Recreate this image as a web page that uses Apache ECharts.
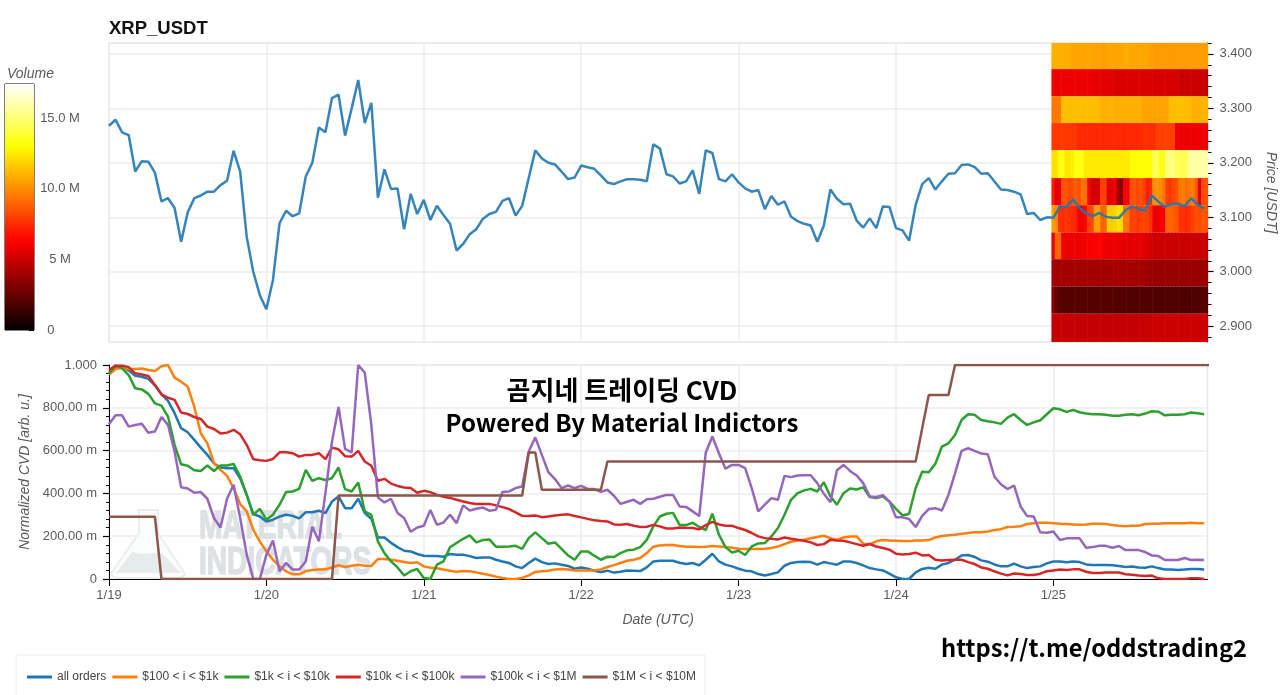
<!DOCTYPE html>
<html>
<head>
<meta charset="utf-8">
<title>XRP_USDT CVD</title>
<script src="https://cdn.jsdelivr.net/npm/echarts@6/dist/echarts.min.js"></script>
<style>
html, body { margin: 0; padding: 0; background: #fff; }
#main { width: 1280px; height: 695px; }
</style>
</head>
<body>
<div id="main"></div>
<script>
var dayLabels = ['1/19', '1/20', '1/21', '1/22', '1/23', '1/24', '1/25'];
var dayTicks = [0, 24, 48, 72, 96, 120, 144];

var priceTicks = [2.9, 3.0, 3.1, 3.2, 3.3, 3.4];
var priceMinorTicks = [2.88, 2.92, 2.94, 2.96, 2.98, 3.02, 3.04, 3.06, 3.08, 3.12, 3.14, 3.16, 3.18, 3.22, 3.24, 3.26, 3.28, 3.32, 3.34, 3.36, 3.38, 3.42];

// hourly close, one row per day
var price = [
    3.268,3.279,3.256,3.251,3.184,3.203,3.202,3.182,3.129,3.135,3.117,3.055,3.109,3.135,3.140,3.147,3.147,3.159,3.167,3.222,3.184,3.064,3.000,2.957,
    2.931,2.985,3.089,3.112,3.102,3.107,3.175,3.200,3.265,3.256,3.319,3.325,3.250,3.300,3.352,3.273,3.310,3.136,3.188,3.152,3.153,3.078,3.143,3.106,
    3.132,3.095,3.121,3.104,3.088,3.039,3.051,3.069,3.078,3.097,3.106,3.110,3.130,3.135,3.103,3.121,3.172,3.223,3.208,3.200,3.197,3.184,3.170,3.173,
    3.195,3.192,3.189,3.177,3.164,3.161,3.166,3.170,3.170,3.169,3.166,3.234,3.226,3.179,3.175,3.162,3.166,3.186,3.143,3.223,3.218,3.170,3.166,3.179,
    3.164,3.153,3.147,3.150,3.115,3.139,3.123,3.129,3.101,3.093,3.088,3.085,3.055,3.085,3.151,3.134,3.124,3.125,3.094,3.081,3.098,3.080,3.120,3.119,
    3.080,3.076,3.057,3.123,3.161,3.172,3.151,3.166,3.180,3.181,3.196,3.197,3.192,3.180,3.181,3.166,3.151,3.150,3.147,3.142,3.106,3.108,3.095,3.100,
    3.099,3.120,3.119,3.133,3.117,3.107,3.102,3.108,3.101,3.099,3.099,3.113,3.120,3.115,3.112,3.140,3.129,3.119,3.124,3.125,3.120,3.135,3.123,3.116
];

// normalized CVD in milli units
var allOrders = [
    960,990,990,975,950,945,935,905,863,832,775,705,686,650,614,580,541,521,518,518,471,393,303,292,
    269,277,292,300,295,283,312,312,319,308,362,386,331,331,375,308,281,194,194,169,149,132,129,117,
    109,107,107,104,117,113,113,107,98,101,101,90,82,75,59,51,75,95,79,70,73,67,61,48,
    54,48,39,33,39,30,34,40,39,37,54,82,85,85,85,76,70,75,64,90,118,82,67,59,
    48,39,36,23,16,23,31,62,75,79,81,79,67,79,73,67,82,82,75,64,51,45,40,25,
    8,0,0,31,47,53,48,67,75,90,110,112,103,87,81,68,59,59,72,59,51,56,59,73,
    82,82,78,82,79,68,65,65,65,64,61,56,58,54,53,59,51,44,44,42,44,47,47,44
];
var size100to1k = [
    956,981,987,981,981,984,977,972,994,1000,941,922,899,805,681,634,541,510,482,424,350,316,230,176,
    129,90,59,36,22,22,37,42,44,45,54,64,56,62,67,62,61,93,93,90,85,79,75,78,
    59,53,50,44,39,34,37,36,31,25,19,11,5,0,0,5,17,33,36,39,44,47,44,40,
    40,40,40,45,56,65,75,85,90,98,121,151,157,159,159,154,151,151,149,151,154,152,149,146,
    141,140,140,140,141,145,152,163,174,180,183,190,196,202,191,183,194,199,199,165,163,176,182,180,
    179,177,177,180,180,182,194,201,204,207,211,215,218,219,222,229,233,243,244,246,257,261,263,263,
    261,258,257,255,253,255,258,258,257,252,249,247,249,249,257,258,258,260,260,260,261,263,261,261
];
var size1kto10k = [
    961,997,984,953,891,886,865,821,810,759,627,536,529,508,505,530,505,530,530,538,479,393,300,328,
    277,300,347,406,409,421,510,459,471,463,471,521,420,409,451,316,300,176,121,82,54,16,36,47,
    5,0,67,82,148,168,188,204,171,182,185,151,151,152,155,141,191,218,191,165,171,141,110,90,
    129,129,109,90,104,103,121,134,137,149,183,246,292,305,309,253,252,263,243,229,305,207,149,124,
    132,112,152,166,168,199,238,300,370,401,414,421,409,452,386,347,401,423,418,428,383,378,386,362,
    328,297,305,425,501,499,538,619,634,673,743,770,767,743,737,732,725,754,770,743,720,732,742,770,
    798,793,781,790,779,773,770,770,767,763,763,767,770,765,773,784,782,765,768,768,770,778,774,770
];
var size10kto100k = [
    977,997,997,990,961,956,949,907,863,847,837,778,771,757,748,712,701,680,684,697,676,627,560,555,
    552,561,592,592,588,572,580,580,588,560,614,606,574,572,599,549,529,459,468,446,435,428,425,403,
    412,406,393,384,379,370,362,355,350,351,351,344,336,327,311,295,294,297,289,292,297,300,302,294,
    288,281,274,271,269,255,253,257,249,243,244,253,246,236,236,241,239,238,232,252,267,255,249,249,
    238,229,215,199,191,188,185,194,188,183,179,171,159,163,183,180,179,171,163,155,163,152,145,137,
    118,115,117,123,110,112,90,87,89,90,90,79,70,54,48,36,25,17,26,23,19,19,25,36,
    40,44,42,45,45,34,28,28,30,30,30,22,20,16,14,16,3,0,0,0,0,3,3,0
];
var size100kto1M = [
    723,765,765,712,720,725,683,689,757,720,596,429,423,403,406,375,285,241,375,440,285,114,0,0,
    114,180,36,75,44,44,82,244,176,401,642,804,608,592,1000,964,720,381,358,375,308,285,221,241,
    249,323,253,264,300,261,344,320,328,334,319,323,407,409,425,432,596,662,580,499,467,425,437,425,
    435,421,420,407,417,389,351,361,370,351,373,375,384,393,393,339,337,316,294,591,666,588,515,533,
    533,518,425,316,347,378,370,482,476,484,485,485,448,398,359,508,533,505,484,448,386,383,392,362,
    288,288,280,243,295,327,331,320,393,494,599,611,599,586,583,479,443,420,437,339,294,292,218,216,
    222,182,190,190,190,146,149,155,155,146,154,135,135,135,126,110,107,89,89,89,98,89,90,89
];
var size1Mto10M = [
    291,291,291,291,291,291,291,291,0,0,0,0,0,0,0,0,0,0,0,0,0,0,0,0,
    0,0,0,0,0,0,0,0,0,0,0,390,390,390,390,390,390,390,390,390,390,390,390,390,
    390,390,390,390,390,390,390,390,390,390,390,390,390,390,390,390,591,591,417,417,417,417,417,417,
    417,417,417,417,549,549,549,549,549,549,549,549,549,549,549,549,549,549,549,549,549,549,549,549,
    549,549,549,549,549,549,549,549,549,549,549,549,549,549,549,549,549,549,549,549,549,549,549,549,
    549,549,549,549,704,860,860,860,860,1000,1000,1000,1000,1000,1000,1000,1000,1000,1000,1000,1000,1000,1000,1000,1000,1000,1000,1000,
    1000,1000,1000,1000,1000,1000,1000,1000,1000,1000,1000,1000,1000,1000,1000,1000,1000,1000,1000,1000,1000,1000,1000,1000
];

var seriesNames = ['all orders', '$100 < i < $1k', '$1k < i < $10k', '$10k < i < $100k', '$100k < i < $1M', '$1M < i < $10M'];
var seriesColors = ['#1f77b4', '#ff7f0e', '#2ca02c', '#d62728', '#9467bd', '#8c564b'];
var cvdValues = [allOrders, size100to1k, size1kto10k, size10kto100k, size100kto1M, size1Mto10M];

// volume profile: price band edges and, per band from the top, volume in millions
var bandEdges = [3.42, 3.372, 3.322, 3.273, 3.223, 3.172, 3.122, 3.072, 3.023, 2.973, 2.923, 2.871];
var heatStartHour = 143.7;
var heatStepHours = 0.496;
var volumeBand0 = [10.9,10.9,10.9,10.9,10.9,10.9,10.7,10.7,10.7,10.7,10.7,10.7,10.6,10.6,10.6,10.5,10.5,10.7,10.7,10.7,10.7,10.7,10.8,10.8,10.7,10.7,10.7,10.7,10.7,10.7,10.5,10.4,10.4,10.4,10.4,10.4,10.4,10.4,10.4,10.4,10.4,10.4,10.4,10.4,10.4,10.4,10.4,10.4];
var volumeBand1 = [5.8,5.8,5.8,5.8,5.8,5.8,5.8,5.8,5.8,5.8,5.8,5.8,5.7,5.7,5.7,5.6,5.6,5.6,5.6,5.4,5.4,5.4,5.4,5.4,5.4,5.4,5.4,5.4,5.4,5.4,5.4,5.3,5.3,5.3,5.3,5.3,5.3,5.3,5.3,5.0,5.0,5.0,5.0,5.0,5.0,5.0,5.0,4.9];
var volumeBand2 = [9.5,9.5,9.5,11.3,11.3,11.3,11.3,11.3,11.3,11.3,11.3,11.3,11.3,11.3,11.2,10.9,10.9,11.0,11.0,10.9,10.9,10.9,10.9,10.9,10.9,10.9,10.9,10.9,10.6,10.6,10.6,10.6,10.7,10.6,10.6,10.6,11.3,11.3,11.3,11.3,11.3,11.2,11.2,10.9,10.9,10.9,11.0,11.0];
var volumeBand3 = [7.8,7.8,7.8,7.8,7.8,7.8,7.7,7.7,7.4,7.4,7.4,7.4,7.4,7.4,7.4,7.4,7.4,7.4,7.4,7.4,7.4,7.4,7.3,7.4,7.4,7.4,7.4,7.4,7.6,7.6,7.5,7.5,8.0,8.0,8.0,8.0,8.0,8.0,5.8,5.8,5.8,5.8,5.8,5.8,5.8,5.8,5.8,5.8];
var volumeBand4 = [12.2,12.2,13.3,13.3,12.4,12.4,12.6,13.3,13.3,13.3,12.4,12.4,12.4,12.4,12.4,12.4,12.4,12.4,12.4,12.4,12.4,12.4,12.4,12.4,13,13,13,13,13,13,13,14.5,14.5,13.3,13.3,15.2,15.2,15.2,14.5,14.5,14.5,14.5,15.8,15.8,15.8,15.8,15.8,15.8];
var volumeBand5 = [7,5.6,5.8,8.4,8.6,8.2,8.4,8.8,8.4,9.4,9.2,6.3,5.2,5.2,5.4,8,8,5.6,5.6,6,4,3.3,6,6.2,8.4,8.6,8.2,8.4,8,7.1,7.4,10.1,10.2,10,9.5,8,7.8,8.2,8.4,9.4,9.6,9.2,9.4,9.6,8.8,5.6,8.2,8.4];
var volumeBand6 = [10.5,10,7.6,7.4,7.8,7.6,7.4,7.2,6,6,6.4,8,8.2,10.5,10.5,8.9,9,11.8,11.6,11.8,12.2,12,9.5,9.4,8,8.2,7.8,8,8.2,8,7.6,5.8,5.8,6,6.2,8.9,9,8.8,8.6,7.6,7.6,7.4,7.6,8,8.4,8.2,8.6,8.4];
var volumeBand7 = [5.6,8.9,8.9,5.8,5.8,5.8,5.8,5.8,5.8,5.9,6.1,6.1,6.2,6.3,6.3,6.2,5.9,5.8,5.8,5.8,5.8,5.7,5.6,5.6,5.6,5.7,5.6,5.6,5.5,5.4,5.2,5.0,5.0,5.0,5.0,5.0,5.0,5.0,5.0,5.0,4.9,5.0,5.0,5.0,5.0,5.0,5.0,4.9];
var volumeBand8 = [4,4,4,4,4,4,4,4,4,4,4,4,4,4,4,4,4,4,4,4,4.2,4.1,4,4,4,4,4,4,4,3.9,3.8,3.8,3.8,3.8,3.8,3.8,3.8,3.8,3.8,3.8,3.8,3.8,3.8,3.8,3.8,3.8,3.8,3.8];
var volumeBand9 = [3.2,2.6,2,2,2.1,2,2.1,2.1,2,2,2.1,2.1,2,2,2,2.1,2,2,2.1,2,2,2.1,2,2,2,2,2,2,2,2,2,2,1.9,1.9,1.9,1.9,1.9,1.9,1.9,1.9,1.9,1.9,1.9,1.9,1.9,1.9,2,2];
var volumeBand10 = [4.8,4.8,4.8,4.8,4.8,4.8,4.8,4.8,4.8,4.8,4.8,4.8,4.8,4.8,4.8,4.8,4.8,4.8,4.8,4.8,4.8,4.8,4.8,4.8,4.8,4.8,4.8,4.8,4.8,4.9,4.9,5,5,5,5,5,5,5,5,5,5,5,5,5,5,5,5,5];
var volumeBands = [volumeBand0, volumeBand1, volumeBand2, volumeBand3, volumeBand4, volumeBand5, volumeBand6, volumeBand7, volumeBand8, volumeBand9, volumeBand10];

var volumeMax = 17.4;
var volumeTicks = [0, 5, 10, 15];
var volumeTickLabels = ['0     ', '5 M', '10.0 M', '15.0 M'];

var FONT = '"Liberation Sans", Arial, sans-serif';
var LABEL = '#5a5a5a';
var GRID_LINE = '#ececec';
var WATERMARK = '#dde1e3';

function withHours(values) {
    return values.map(function (v, i) {
        return [i, v];
    });
}

// matplotlib style "hot" ramp
function hotColor(t) {
    var r = Math.min(1, 0.01 + t / 0.365);
    var g = Math.max(0, Math.min(1, (t - 0.365) / 0.381));
    var b = Math.max(0, Math.min(1, (t - 0.746) / 0.254));
    return 'rgb(' + Math.round(r * 255) + ',' + Math.round(g * 255) + ',' + Math.round(b * 255) + ')';
}

var hotColors = [];
var hotStops = [];
for (var s = 0; s <= 40; s++) {
    hotColors.push(hotColor(s / 40));
    hotStops.push({ offset: s / 40, color: hotColor(s / 40) });
}

var heatData = [];
volumeBands.forEach(function (band, b) {
    band.forEach(function (v, c) {
        heatData.push([heatStartHour + c * heatStepHours, bandEdges[b + 1], v, bandEdges[b]]);
    });
});

var series = [
    {
        name: 'volume',
        type: 'custom',
        xAxisIndex: 0,
        yAxisIndex: 0,
        data: heatData,
        encode: { x: 0, y: 1 },
        z: 1,
        silent: true,
        renderItem: function (params, api) {
            var p0 = api.coord([api.value(0), api.value(3)]);
            var p1 = api.coord([api.value(0) + heatStepHours, api.value(1)]);
            return {
                type: 'rect',
                shape: { x: p0[0], y: p0[1], width: p1[0] - p0[0] + 0.6, height: p1[1] - p0[1] },
                style: { fill: api.visual('color') }
            };
        }
    },
    {
        name: 'price',
        type: 'line',
        xAxisIndex: 0,
        yAxisIndex: 0,
        data: withHours(price),
        symbol: 'none',
        z: 3,
        lineStyle: { color: '#1f77b4', width: 2.5, opacity: 0.9 }
    },
    {
        name: 'scale',
        type: 'bar',
        xAxisIndex: 2,
        yAxisIndex: 3,
        data: [volumeMax],
        barWidth: '100%',
        silent: true,
        itemStyle: { color: new echarts.graphic.LinearGradient(0, 1, 0, 0, hotStops) }
    }
];

seriesNames.forEach(function (name, i) {
    series.push({
        name: name,
        type: 'line',
        xAxisIndex: 1,
        yAxisIndex: 1,
        data: withHours(cvdValues[i]),
        symbol: 'none',
        color: seriesColors[i],
        lineStyle: { color: seriesColors[i], width: 2.5 }
    });
});

var option = {
    animation: false,
    backgroundColor: '#fff',
    textStyle: { fontFamily: FONT },
    grid: [
        { left: 109, top: 43, width: 1098.5, height: 299, show: true, borderColor: '#e6e6e6', borderWidth: 1.5, outerBoundsMode: 'none' },
        { left: 109, top: 365, width: 1098.5, height: 214, show: true, borderColor: '#e6e6e6', borderWidth: 1.5, outerBoundsMode: 'none' },
        { left: 5, top: 84, width: 29, height: 246, show: true, borderColor: '#000', borderWidth: 1, outerBoundsMode: 'none' },
        // same box as the price plot, only carries the short ticks
        { left: 109, top: 43, width: 1098.5, height: 299, show: false, outerBoundsMode: 'none' }
    ],
    xAxis: [
        {
            gridIndex: 0,
            type: 'value',
            min: 0,
            max: 167.5,
            axisLine: { show: false },
            axisTick: { show: false, customValues: dayTicks },
            axisLabel: { show: false, customValues: dayTicks },
            splitLine: { lineStyle: { color: GRID_LINE, width: 1.5 } }
        },
        {
            gridIndex: 1,
            type: 'value',
            min: 0,
            max: 167.5,
            name: 'Date (UTC)',
            nameLocation: 'middle',
            nameGap: 34,
            nameTextStyle: { fontStyle: 'italic', fontSize: 14, color: LABEL },
            axisLine: { lineStyle: { color: '#000', width: 1 } },
            axisTick: { customValues: dayTicks, length: 7, lineStyle: { color: '#000' } },
            axisLabel: {
                customValues: dayTicks,
                margin: 10,
                fontSize: 13,
                color: LABEL,
                formatter: function (v) {
                    return dayLabels[v / 24];
                }
            },
            splitLine: { lineStyle: { color: GRID_LINE, width: 1.5 } }
        },
        { gridIndex: 2, type: 'category', data: ['volume'], show: false },
        { gridIndex: 3, type: 'value', min: 0, max: 167.5, show: false }
    ],
    yAxis: [
        {
            gridIndex: 0,
            type: 'value',
            position: 'right',
            min: 2.871,
            max: 3.42,
            name: 'Price [USDT]',
            nameLocation: 'middle',
            nameRotate: -90,
            nameGap: 56,
            nameTextStyle: { fontStyle: 'italic', fontSize: 14, color: LABEL },
            axisLine: { show: true, onZero: false, lineStyle: { color: '#000', width: 1 } },
            axisTick: { show: true, customValues: priceTicks, length: 6, lineStyle: { color: '#000', width: 1.2 } },
            axisLabel: {
                customValues: priceTicks,
                margin: 12,
                fontSize: 13,
                color: LABEL,
                formatter: function (v) {
                    return v.toFixed(3);
                }
            },
            splitLine: { lineStyle: { color: GRID_LINE, width: 1.5 } }
        },
        {
            gridIndex: 1,
            type: 'value',
            min: 0,
            max: 1000,
            interval: 200,
            name: 'Normalized CVD [arb. u.]',
            nameLocation: 'middle',
            nameRotate: 90,
            nameGap: 74,
            nameTextStyle: { fontStyle: 'italic', fontSize: 14, color: LABEL },
            axisLine: { show: true, lineStyle: { color: '#000', width: 1 } },
            axisTick: { show: true, length: 6, lineStyle: { color: '#000', width: 1.2 } },
            minorTick: { show: true, splitNumber: 5, length: 3, lineStyle: { color: '#000' } },
            axisLabel: {
                margin: 12,
                fontSize: 13,
                color: LABEL,
                formatter: function (v) {
                    if (v === 0) return '0';
                    if (v === 1000) return '1.000';
                    return v.toFixed(2) + ' m';
                }
            },
            splitLine: { lineStyle: { color: GRID_LINE, width: 1.5 } }
        },
        {
            gridIndex: 3,
            type: 'value',
            position: 'right',
            min: 2.871,
            max: 3.42,
            axisLine: { show: false, onZero: false },
            axisTick: { show: true, customValues: priceMinorTicks, length: 4, lineStyle: { color: '#000', width: 1 } },
            axisLabel: { show: false },
            splitLine: { show: false }
        },
        {
            gridIndex: 2,
            type: 'value',
            position: 'right',
            min: 0,
            max: volumeMax,
            axisLine: { show: false, onZero: false },
            axisTick: { show: true, inside: true, customValues: volumeTicks, length: 5, lineStyle: { color: '#000' } },
            axisLabel: {
                customValues: volumeTicks,
                margin: 26,
                align: 'center',
                fontSize: 13,
                color: LABEL,
                formatter: function (v) {
                    return volumeTickLabels[volumeTicks.indexOf(v)];
                }
            },
            splitLine: { show: false }
        }
    ],
    visualMap: {
        show: false,
        seriesIndex: 0,
        dimension: 2,
        min: 0,
        max: volumeMax,
        inRange: { color: hotColors }
    },
    legend: {
        data: seriesNames,
        left: 16,
        top: 655,
        orient: 'horizontal',
        icon: 'rect',
        itemWidth: 25,
        itemHeight: 3,
        itemGap: 6,
        padding: [16, 9, 15, 11],
        borderColor: '#eeeeee',
        borderWidth: 1,
        selectedMode: false,
        textStyle: { fontSize: 12, color: '#444', fontFamily: FONT }
    },
    graphic: [
        { type: 'text', x: 109, y: 19, z: 10, style: { text: 'XRP_USDT', font: 'bold 18.5px ' + FONT, fill: '#111' } },
        { type: 'text', x: 7, y: 67, z: 10, style: { text: 'Volume', font: 'italic 14px ' + FONT, fill: LABEL } },
        {
            type: 'polygon', z: 1,
            shape: { points: [[139, 510], [158, 510], [158, 533], [185, 574], [181, 578], [115, 578], [111, 574], [139, 533]] },
            style: { fill: '#fbfcfc', stroke: '#eceeee', lineWidth: 2 }
        },
        {
            type: 'polygon', z: 1,
            shape: { points: [[116, 573], [132, 552], [140, 554], [162, 553], [181, 573]] },
            style: { fill: '#e6ecec' }
        },
        { type: 'text', x: 199, y: 509, z: 1, scaleX: 0.74, style: { text: 'MATERIAL', font: 'bold 38px "Liberation Sans Narrow", ' + FONT, fill: WATERMARK, stroke: WATERMARK, lineWidth: 1.5 } },
        { type: 'text', x: 199, y: 545, z: 1, scaleX: 0.74, style: { text: 'INDICATORS', font: 'bold 38px "Liberation Sans Narrow", ' + FONT, fill: WATERMARK, stroke: WATERMARK, lineWidth: 1.5 } },
        { type: 'text', x: 622, y: 390, z: 10, style: { text: '곰지네 트레이딩 CVD', font: 'bold 26px "Noto Sans CJK KR"', fill: '#000', align: 'center', verticalAlign: 'middle' } },
        { type: 'text', x: 622, y: 423, z: 10, style: { text: 'Powered By Material Indictors', font: 'bold 24px "Noto Sans CJK KR"', fill: '#000', align: 'center', verticalAlign: 'middle' } },
        { type: 'text', x: 1094, y: 648, z: 10, style: { text: 'https://t.me/oddstrading2', font: 'bold 23.7px "Noto Sans CJK KR"', fill: '#000', align: 'center', verticalAlign: 'middle' } }
    ],
    series: series
};

var myChart = echarts.init(document.getElementById('main'));
myChart.setOption(option);
</script>
</body>
</html>
